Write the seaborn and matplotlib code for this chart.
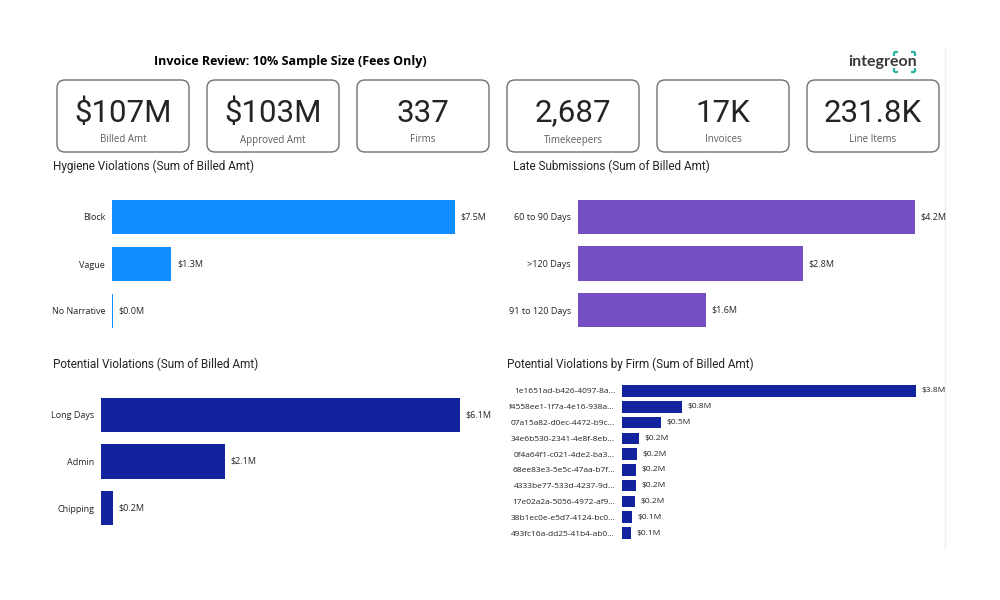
import pandas as pd
import matplotlib.pyplot as plt
import seaborn as sns
from matplotlib.patches import FancyBboxPatch

# KPI cards
kpi_values = ["$107M", "$103M", "337", "2,687", "17K", "231.8K"]
kpi_labels = ["Billed Amt", "Approved Amt", "Firms", "Timekeepers", "Invoices", "Line Items"]

# bar panels (values in $M)
hygiene_cats = ["Block", "Vague", "No Narrative"]
hygiene_vals = [7.5, 1.3, 0.03]

late_cats = ["60 to 90 Days", ">120 Days", "91 to 120 Days"]
late_vals = [4.2, 2.8, 1.6]

potential_cats = ["Long Days", "Admin", "Chipping"]
potential_vals = [6.1, 2.1, 0.2]

firm_cats = [
    "1e1651ad-b426-4097-8a...",
    "f4558ee1-1f7a-4e16-938a...",
    "07a15a82-d0ec-4472-b9c...",
    "34e6b530-2341-4e8f-8eb...",
    "0f4a64f1-c021-4de2-ba3...",
    "68ee83e3-5e5c-47aa-b7f...",
    "4333be77-533d-4237-9d...",
    "17e02a2a-5056-4972-af9...",
    "38b1ec0e-e5d7-4124-bc0...",
    "493fc16a-dd25-41b4-ab0...",
]
firm_vals = [3.8, 0.78, 0.50, 0.22, 0.19, 0.18, 0.18, 0.17, 0.13, 0.12]

sns.set_theme(style="white")
plt.rcParams['font.family'] = ['Open Sans', 'DejaVu Sans']

W, H = 1000, 600
fig = plt.figure(figsize=(10, 6), dpi=100)
fig.patch.set_facecolor("white")

# background axes in pixel coordinates
bg = fig.add_axes([0, 0, 1, 1])
bg.set_xlim(0, W)
bg.set_ylim(H, 0)
bg.axis("off")

dark = "#252423"
gray = "#605E5C"

bg.text(290, 61, "Invoice Review: 10% Sample Size (Fees Only)", ha="center", va="center",
        fontsize=9, fontweight="bold", color="black")

# logo
bg.text(848, 62, "integreon", ha="left", va="center", fontsize=11.5,
        color="#3a3a3a", family="Lato", fontweight="bold")
teal = "#2BB3A3"
for (x0, y0, dx, dy) in [(894, 52, 1, 1), (915, 52, -1, 1), (894, 72, 1, -1), (915, 72, -1, -1)]:
    bg.plot([x0, x0 + 4 * dx], [y0, y0], color=teal, lw=1.6, solid_capstyle="butt")
    bg.plot([x0, x0], [y0, y0 + 4 * dy], color=teal, lw=1.6, solid_capstyle="butt")

# right border line
bg.plot([945, 945], [48, 548], color="#eeeeee", lw=1)

# KPI cards
for i, (val, lab) in enumerate(zip(kpi_values, kpi_labels)):
    x0 = 57 + 150 * i
    box = FancyBboxPatch((x0, 80), 132, 72, boxstyle="round,pad=0,rounding_size=8",
                         fc="white", ec="#707070", lw=1)
    bg.add_patch(box)
    bg.text(x0 + 66, 113, val, ha="center", va="center", fontsize=22.5,
            color=dark, family="Roboto")
    bg.text(x0 + 66, 140, lab, ha="center", va="center", fontsize=7, color=gray)

# panel titles
titles = [
    (53, 166, "Hygiene Violations (Sum of Billed Amt)"),
    (513, 166, "Late Submissions (Sum of Billed Amt)"),
    (53, 364, "Potential Violations (Sum of Billed Amt)"),
    (507, 364, "Potential Violations by Firm (Sum of Billed Amt)"),
]
for x, y, t in titles:
    bg.text(x, y, t, ha="left", va="center", fontsize=8.5, color=dark, family="Roboto")


def px_axes(l, t, r, b):
    return fig.add_axes([l / W, 1 - b / H, (r - l) / W, (b - t) / H])


def bar_panel(ax, cats, vals, color, width, tick_size, label_size):
    df = pd.DataFrame({"cat": cats, "val": vals})
    sns.barplot(data=df, x="val", y="cat", color=color, width=width, ax=ax,
                saturation=1, edgecolor="none")
    ax.set_xlim(0, max(vals))
    ax.set_ylim(len(cats) - 0.5, -0.5)
    ax.set_xlabel("")
    ax.set_ylabel("")
    ax.set_xticks([])
    ax.tick_params(axis="y", length=0, pad=5, labelsize=tick_size, labelcolor=dark)
    for s in ax.spines.values():
        s.set_visible(False)
    ax.patch.set_alpha(0)
    for i, v in enumerate(vals):
        ax.annotate(f"${v:.1f}M", (v, i), xytext=(4, 0), textcoords="offset points",
                    ha="left", va="center", fontsize=label_size, color=dark,
                    annotation_clip=False)


ax1 = px_axes(112, 193.5, 455, 334.5)
bar_panel(ax1, hygiene_cats, hygiene_vals, "#118DFF", 0.74, 6.5, 6.5)

ax2 = px_axes(578, 193.5, 915, 333.5)
bar_panel(ax2, late_cats, late_vals, "#744EC2", 0.74, 6.5, 6.5)

ax3 = px_axes(101, 391.75, 460, 531.25)
bar_panel(ax3, potential_cats, potential_vals, "#12239E", 0.74, 6.5, 6.5)

ax4 = px_axes(622, 383.1, 916, 540.9)
bar_panel(ax4, firm_cats, firm_vals, "#12239E", 0.73, 6, 6)

fig.savefig("out.png", dpi=100, facecolor="white")
